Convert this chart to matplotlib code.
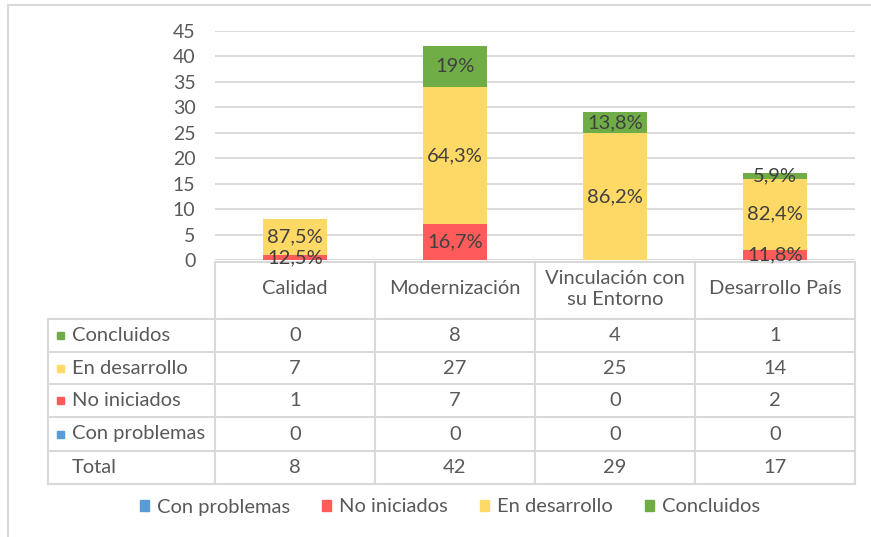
import matplotlib.pyplot as plt
from matplotlib.patches import Patch, Rectangle

plt.rcParams['font.family'] = ['Lato', 'DejaVu Sans']

# ==================== Datos ====================
categorias = ["Calidad", "Modernización", "Vinculación con\nsu Entorno", "Desarrollo País"]
series = ["Con problemas", "No iniciados", "En desarrollo", "Concluidos"]
con_problemas = [0, 0, 0, 0]
no_iniciados = [1, 7, 0, 2]
en_desarrollo = [7, 27, 25, 14]
concluidos = [0, 8, 4, 1]
totales = [8, 42, 29, 17]

pct_con_problemas = ["", "", "", ""]
pct_no_iniciados = ["12,5%", "16,7%", "", "11,8%"]
pct_en_desarrollo = ["87,5%", "64,3%", "86,2%", "82,4%"]
pct_concluidos = ["", "19%", "13,8%", "5,9%"]

colores = ["#5B9BD5", "#FF5B5B", "#FFD966", "#70AD47"]
gris_txt = "#595959"
gris_lin = "#D9D9D9"

valores = [con_problemas, no_iniciados, en_desarrollo, concluidos]
etiquetas = [pct_con_problemas, pct_no_iniciados, pct_en_desarrollo, pct_concluidos]

# ==================== Figura ====================
W, H = 871, 537
fig = plt.figure(figsize=(W / 100, H / 100), dpi=100)

def fx(px):
    return px / W

def fy(py):
    return 1 - py / H

# capa de pixeles para marco, tabla y leyenda
capa = fig.add_axes([0, 0, 1, 1])
capa.set_xlim(0, W)
capa.set_ylim(H, 0)
capa.axis("off")

# marco exterior
capa.plot([10, W], [5, 5], color=gris_lin, lw=1.5)
capa.plot([8, 8], [5, H], color=gris_lin, lw=1.5)

# ---------- Grafico de barras ----------
x0, x1, y0, y1 = 215, 855, 260, 31
ax = fig.add_axes([fx(x0), fy(y0), fx(x1) - fx(x0), fy(y1) - fy(y0)])
ax.set_xlim(-0.5, len(categorias) - 0.5)
ax.set_ylim(0, 45)
ax.set_yticks(range(0, 46, 5))
ax.set_xticks([])
ax.grid(axis="y", color=gris_lin, lw=1.3)
ax.set_axisbelow(True)
for s in ax.spines.values():
    s.set_visible(False)
ax.tick_params(axis="y", length=0, pad=14, labelsize=14, labelcolor=gris_txt)

xs = list(range(len(categorias)))
base = [0] * len(categorias)
for vals, col, labs in zip(valores, colores, etiquetas):
    ax.bar(xs, vals, bottom=base, width=0.4, color=col, zorder=2)
    for i in xs:
        if labs[i]:
            ax.text(i, base[i] + vals[i] / 2, labs[i], ha="center", va="center",
                    fontsize=14.5, color="#404040", zorder=3)
    base = [b + v for b, v in zip(base, vals)]

# ---------- Tabla de datos ----------
col_w = 160
col_bordes = [x0 + k * col_w for k in range(len(categorias) + 1)]
fila_bordes = [319, 352, 384, 417, 451, 484]
lbl_x = 48
lw_t = 1.5

# cabecera (sin celda de etiqueta)
capa.plot([x0, x1], [262, 262], color=gris_lin, lw=lw_t)
for xb in col_bordes:
    capa.plot([xb, xb], [262, fila_bordes[-1]], color=gris_lin, lw=lw_t)
for yb in fila_bordes:
    capa.plot([lbl_x, x1], [yb, yb], color=gris_lin, lw=lw_t)
capa.plot([lbl_x, lbl_x], [fila_bordes[0], fila_bordes[-1]], color=gris_lin, lw=lw_t)

for i, cat in enumerate(categorias):
    capa.text(x0 + col_w * (i + 0.5), 289, cat, ha="center", va="center",
              fontsize=14.5, color=gris_txt, linespacing=1.25)

filas = [
    ("Concluidos", concluidos, colores[3]),
    ("En desarrollo", en_desarrollo, colores[2]),
    ("No iniciados", no_iniciados, colores[1]),
    ("Con problemas", con_problemas, colores[0]),
    ("Total", totales, None),
]
for r, (nombre, vals, col) in enumerate(filas):
    yc = (fila_bordes[r] + fila_bordes[r + 1]) / 2
    if col:
        capa.add_patch(Rectangle((57, yc - 3.5), 7, 7, color=col))
    capa.text(72, yc, nombre, ha="left", va="center", fontsize=14.5, color=gris_txt)
    for i, v in enumerate(vals):
        capa.text(x0 + col_w * (i + 0.5), yc, str(v), ha="center", va="center",
                  fontsize=14.5, color=gris_txt)

# ---------- Leyenda ----------
handles = [Patch(color=c, label=s) for c, s in zip(colores, series)]
fig.legend(handles=handles, loc="center", bbox_to_anchor=(fx(450), fy(507)),
           ncol=4, frameon=False, fontsize=14.5, labelcolor=gris_txt,
           handlelength=0.45, handleheight=0.45, handletextpad=0.4, columnspacing=1.6)

fig.savefig("out.png", dpi=100)
